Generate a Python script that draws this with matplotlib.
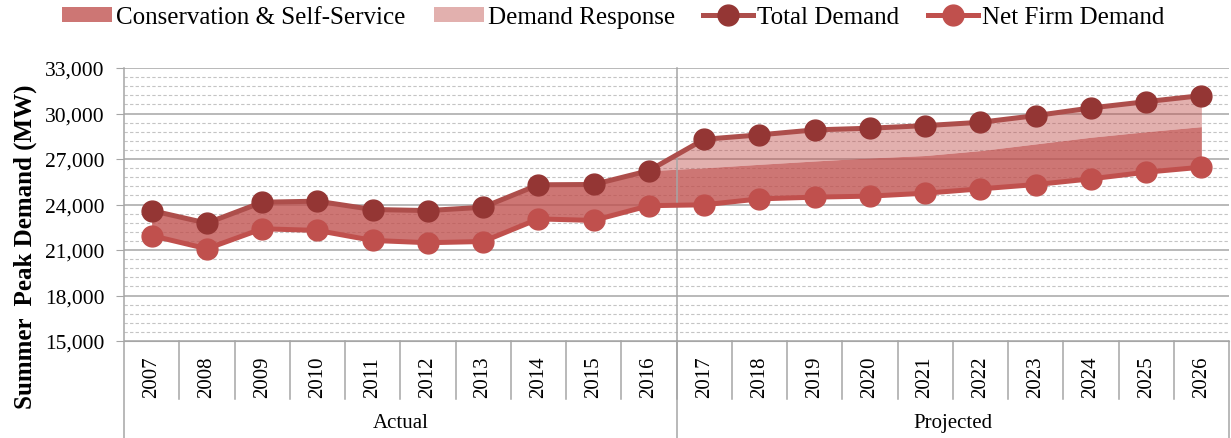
import matplotlib
matplotlib.use("Agg")
import matplotlib.pyplot as plt
import matplotlib.transforms as mtransforms
from matplotlib.ticker import MultipleLocator, FuncFormatter
import numpy as np

plt.rcParams['font.family'] = ['Liberation Serif', 'DejaVu Serif']

# Summer peak demand (MW)
years = [2007, 2008, 2009, 2010, 2011, 2012, 2013, 2014, 2015, 2016,
         2017, 2018, 2019, 2020, 2021, 2022, 2023, 2024, 2025, 2026]
total_demand = [23600, 22770, 24150, 24220, 23670, 23600, 23820, 25300, 25320, 26230,
                28300, 28590, 28920, 29030, 29200, 29420, 29860, 30365, 30780, 31180]
net_firm_demand = [21950, 21080, 22400, 22290, 21630, 21480, 21560, 23050, 22950, 23920,
                   23980, 24370, 24485, 24550, 24745, 25030, 25315, 25690, 26130, 26460]
demand_response = [0, 0, 0, 0, 0, 0, 0, 0, 0, 0,
                   1880, 1940, 2050, 1960, 1970, 1865, 1865, 1930, 1980, 2045]
groups = ['Actual', 'Projected']
group_sizes = [10, 10]

x = np.arange(len(years))
total = np.array(total_demand)
net = np.array(net_firm_demand)
cons_top = total - np.array(demand_response)

fig = plt.figure(figsize=(12.31, 4.39), dpi=100)
ax = fig.add_axes([124 / 1231, 1 - 342 / 439, (1229 - 124) / 1231, (342 - 69) / 439])

ax.fill_between(x, net, cons_top, color='#c0504d', alpha=0.78, lw=0,
                label='Conservation & Self-Service', zorder=2)
ax.fill_between(x, cons_top, total, color='#c0504d', alpha=0.45, lw=0,
                label='Demand Response', zorder=2)
ax.plot(x, total, color='#ad4e4b', lw=3.6, marker='o', ms=15,
        mfc='#943634', mec='#943634', label='Total Demand', zorder=4)
ax.plot(x, net, color='#c0504d', lw=3.6, marker='o', ms=15,
        mfc='#c0504d', mec='#c0504d', label='Net Firm Demand', zorder=3)

ax.set_xlim(-0.5, len(years) - 0.5)
ax.set_ylim(15000, 33000)
ax.yaxis.set_major_locator(MultipleLocator(3000))
ax.yaxis.set_minor_locator(MultipleLocator(600))
ax.yaxis.set_major_formatter(FuncFormatter(lambda v, p: f'{v:,.0f}'))
ax.grid(True, which='major', axis='y', color='#a6a6a6', lw=1.1)
ax.grid(True, which='minor', axis='y', color='#c4c4c4', lw=0.8, ls=(0, (3, 2)))
ax.set_axisbelow(True)
ax.set_xticks([])
ax.tick_params(axis='y', which='major', length=6, color='#a6a6a6', labelsize=15.5, pad=8)
ax.tick_params(axis='y', which='minor', length=0)
for s in ['top', 'right', 'left']:
    ax.spines[s].set_visible(False)
ax.spines['bottom'].set_color('#a6a6a6')

trans = mtransforms.blended_transform_factory(ax.transData, ax.transAxes)
line_kw = dict(transform=trans, clip_on=False, color='#a6a6a6', lw=1.1)

# year labels and category separators
for i, yr in enumerate(years):
    ax.text(i, -0.13, str(yr), transform=trans, rotation=90, ha='center',
            va='center', fontsize=15)
for b in range(1, len(years)):
    ax.plot([b - 0.5, b - 0.5], [0, -0.212], **line_kw)

# group labels
start = -0.5
for g, n in zip(groups, group_sizes):
    ax.text(start + n / 2, -0.30, g, transform=trans, ha='center', va='center', fontsize=15)
    start += n
ax.plot([-0.5, -0.5], [1, -0.36], **line_kw)
ax.plot([9.5, 9.5], [1, -0.36], **line_kw)
ax.plot([19.5, 19.5], [0, -0.36], **line_kw)

ax.set_ylabel('Summer  Peak Demand (MW)', fontsize=18, fontweight='bold')
ax.yaxis.set_label_coords(-0.079, 0.35)

fig.legend(loc='center', bbox_to_anchor=(0.498, 0.958), ncol=4, frameon=False,
           fontsize=18, handlelength=2.0, handleheight=0.5, handletextpad=0.15,
           columnspacing=1.15)

fig.savefig('out.png', dpi=100)
